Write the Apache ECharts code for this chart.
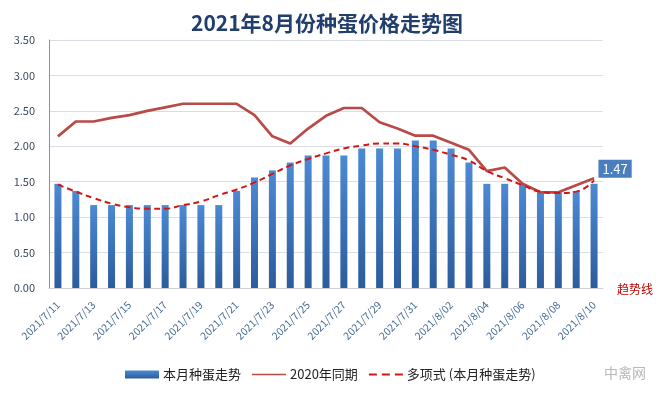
<!DOCTYPE html>
<html><head><meta charset="utf-8">
<script src="https://cdn.jsdelivr.net/npm/echarts@6/dist/echarts.min.js"></script>
<style>html,body{margin:0;padding:0;background:#fff}#c{width:666px;height:395px}</style>
</head><body><div id="c"></div>
<script>
const categories = ['2021/7/11','2021/7/12','2021/7/13','2021/7/14','2021/7/15','2021/7/16','2021/7/17','2021/7/18','2021/7/19','2021/7/20','2021/7/21','2021/7/22','2021/7/23','2021/7/24','2021/7/25','2021/7/26','2021/7/27','2021/7/28','2021/7/29','2021/7/30','2021/7/31','2021/8/01','2021/8/02','2021/8/03','2021/8/04','2021/8/05','2021/8/06','2021/8/07','2021/8/08','2021/8/09','2021/8/10'];
const thisMonth = [1.47,1.37,1.17,1.17,1.17,1.17,1.17,1.17,1.17,1.17,1.37,1.56,1.66,1.77,1.87,1.87,1.87,1.97,1.97,1.97,2.08,2.08,1.97,1.77,1.47,1.47,1.47,1.35,1.35,1.37,1.47];
const lastYear = [2.14,2.35,2.35,2.40,2.44,2.50,2.55,2.60,2.60,2.60,2.60,2.44,2.14,2.04,2.25,2.43,2.54,2.54,2.34,2.25,2.15,2.15,2.05,1.95,1.65,1.70,1.47,1.35,1.35,1.45,1.55];
const trend = [1.46,1.36,1.27,1.19,1.14,1.12,1.12,1.17,1.22,1.31,1.39,1.49,1.61,1.73,1.82,1.90,1.97,2.01,2.04,2.04,2.00,1.95,1.88,1.80,1.65,1.55,1.45,1.36,1.34,1.36,1.52];
const yTicks = ['0.00','0.50','1.00','1.50','2.00','2.50','3.00','3.50'];
const names = ['本月种蛋走势','2020年同期','多项式 (本月种蛋走势)'];

const chart = echarts.init(document.getElementById('c'));
const last = thisMonth.length - 1;
const lineIcon = 'path://M0,0M0,3.3H34V4.7H0ZM34,8';
const dashIcon = 'path://M0,0M0,3H8V5H0ZM13,3H21V5H13ZM26,3H34V5H26ZM34,8';
chart.setOption({
  animation:false,
  textStyle:{fontFamily:'"Noto Sans CJK SC","Noto Sans",sans-serif'},
  title:{text:'2021年8月份种蛋价格走势图',left:186,top:8,
    textStyle:{fontSize:21,fontWeight:'bold',color:'#213E6C',fontFamily:'"Noto Sans CJK SC",sans-serif'}},
  legend:{top:363,left:120,itemWidth:34,itemHeight:8,itemGap:11,
    textStyle:{fontSize:13,color:'#222',padding:[0,0,0,-1]},
    data:[{name:names[0],icon:'rect'},{name:names[1],icon:lineIcon},{name:names[2],icon:dashIcon}]},
  grid:{left:49,right:63,top:40,bottom:107,containLabel:false},
  xAxis:{type:'category',data:categories,
    axisLine:{lineStyle:{color:'#D0D0D0'}},axisTick:{show:false},
    axisLabel:{interval:1,rotate:45,fontSize:10.5,color:'#466A94',margin:15}},
  yAxis:{type:'value',min:0,max:3.5,interval:0.5,
    axisLine:{show:true,lineStyle:{color:'#909090'}},
    splitLine:{lineStyle:{color:'#DADDE6'}},
    axisLabel:{fontSize:11,color:'#3A4A60',margin:14,formatter:v=>yTicks[Math.round(v/0.5)]}},
  graphic:[
    {type:'text',left:617,top:283,style:{text:'趋势线',fill:'#C00000',fontSize:12,fontFamily:'"Noto Sans CJK SC",sans-serif'}},
    {type:'text',left:604,top:366,style:{text:'中禽网',fill:'#B8B8B8',fontSize:14,fontFamily:'"Noto Sans CJK SC",sans-serif'}}
  ],
  series:[
    {name:names[0],type:'bar',barWidth:7,
      data:thisMonth.map((v,i)=>i===last?{value:v,label:{show:true,position:'top',offset:[21,-1],
        backgroundColor:'#4A7EBF',color:'#fff',padding:[3,4,2,4],fontSize:13,formatter:p=>p.value.toFixed(2)}}:v),
      itemStyle:{color:new echarts.graphic.LinearGradient(0,0,0,1,[{offset:0,color:'#4C8AD4'},{offset:1,color:'#2C5C9C'}])}},
    {name:names[1],type:'line',data:lastYear,symbol:'none',z:3,
      lineStyle:{color:'#B84A48',width:2.7},itemStyle:{color:'#B84A48'}},
    {name:names[2],type:'line',data:trend,symbol:'none',smooth:true,z:4,
      lineStyle:{color:'#D01818',width:2,type:[6,4]},itemStyle:{color:'#D01818'}}
  ]
});
</script></body></html>
